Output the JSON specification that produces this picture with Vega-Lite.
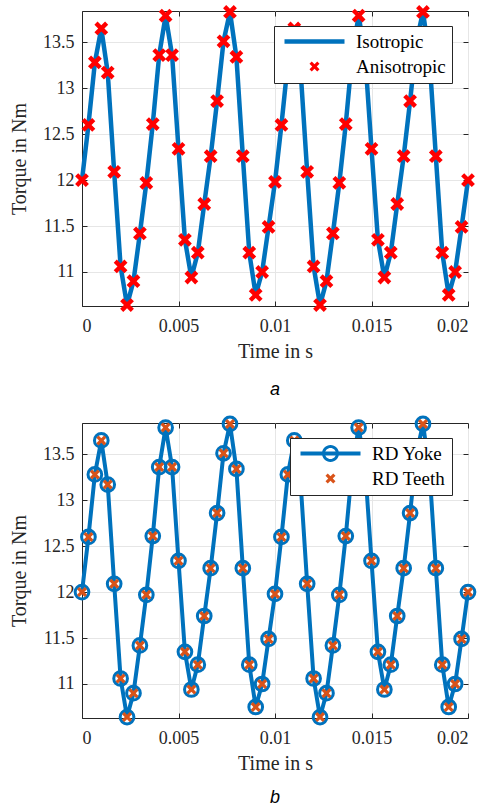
{
  "$schema": "https://vega.github.io/schema/vega-lite/v6.json",
  "background": "white",
  "padding": {"left": 9, "top": 4, "right": 5, "bottom": 0},
  "spacing": 10,
  "datasets": {
    "torque": [
      {"t": 0, "iso": 12.00, "Anisotropic": 12.00, "yoke": 12.00, "RD Teeth": 12.00},
      {"t": 0.000333, "iso": 12.60, "Anisotropic": 12.60, "yoke": 12.60, "RD Teeth": 12.60},
      {"t": 0.000667, "iso": 13.28, "Anisotropic": 13.28, "yoke": 13.28, "RD Teeth": 13.28},
      {"t": 0.001, "iso": 13.65, "Anisotropic": 13.65, "yoke": 13.65, "RD Teeth": 13.65},
      {"t": 0.001333, "iso": 13.17, "Anisotropic": 13.17, "yoke": 13.17, "RD Teeth": 13.17},
      {"t": 0.001667, "iso": 12.09, "Anisotropic": 12.09, "yoke": 12.09, "RD Teeth": 12.09},
      {"t": 0.002, "iso": 11.06, "Anisotropic": 11.06, "yoke": 11.06, "RD Teeth": 11.06},
      {"t": 0.002333, "iso": 10.64, "Anisotropic": 10.64, "yoke": 10.64, "RD Teeth": 10.64},
      {"t": 0.002667, "iso": 10.90, "Anisotropic": 10.90, "yoke": 10.90, "RD Teeth": 10.90},
      {"t": 0.003, "iso": 11.42, "Anisotropic": 11.42, "yoke": 11.42, "RD Teeth": 11.42},
      {"t": 0.003333, "iso": 11.97, "Anisotropic": 11.97, "yoke": 11.97, "RD Teeth": 11.97},
      {"t": 0.003667, "iso": 12.61, "Anisotropic": 12.61, "yoke": 12.61, "RD Teeth": 12.61},
      {"t": 0.004, "iso": 13.36, "Anisotropic": 13.36, "yoke": 13.36, "RD Teeth": 13.36},
      {"t": 0.004333, "iso": 13.79, "Anisotropic": 13.79, "yoke": 13.79, "RD Teeth": 13.79},
      {"t": 0.004667, "iso": 13.36, "Anisotropic": 13.36, "yoke": 13.36, "RD Teeth": 13.36},
      {"t": 0.005, "iso": 12.34, "Anisotropic": 12.34, "yoke": 12.34, "RD Teeth": 12.34},
      {"t": 0.005333, "iso": 11.35, "Anisotropic": 11.35, "yoke": 11.35, "RD Teeth": 11.35},
      {"t": 0.005667, "iso": 10.94, "Anisotropic": 10.94, "yoke": 10.94, "RD Teeth": 10.94},
      {"t": 0.006, "iso": 11.21, "Anisotropic": 11.21, "yoke": 11.21, "RD Teeth": 11.21},
      {"t": 0.006333, "iso": 11.74, "Anisotropic": 11.74, "yoke": 11.74, "RD Teeth": 11.74},
      {"t": 0.006667, "iso": 12.26, "Anisotropic": 12.26, "yoke": 12.26, "RD Teeth": 12.26},
      {"t": 0.007, "iso": 12.86, "Anisotropic": 12.86, "yoke": 12.86, "RD Teeth": 12.86},
      {"t": 0.007333, "iso": 13.51, "Anisotropic": 13.51, "yoke": 13.51, "RD Teeth": 13.51},
      {"t": 0.007667, "iso": 13.83, "Anisotropic": 13.83, "yoke": 13.83, "RD Teeth": 13.83},
      {"t": 0.008, "iso": 13.34, "Anisotropic": 13.34, "yoke": 13.34, "RD Teeth": 13.34},
      {"t": 0.008333, "iso": 12.26, "Anisotropic": 12.26, "yoke": 12.26, "RD Teeth": 12.26},
      {"t": 0.008667, "iso": 11.21, "Anisotropic": 11.21, "yoke": 11.21, "RD Teeth": 11.21},
      {"t": 0.009, "iso": 10.75, "Anisotropic": 10.75, "yoke": 10.75, "RD Teeth": 10.75},
      {"t": 0.009333, "iso": 11.00, "Anisotropic": 11.00, "yoke": 11.00, "RD Teeth": 11.00},
      {"t": 0.009667, "iso": 11.49, "Anisotropic": 11.49, "yoke": 11.49, "RD Teeth": 11.49},
      {"t": 0.01, "iso": 11.98, "Anisotropic": 11.98, "yoke": 11.98, "RD Teeth": 11.98},
      {"t": 0.010333, "iso": 12.60, "Anisotropic": 12.60, "yoke": 12.60, "RD Teeth": 12.60},
      {"t": 0.010667, "iso": 13.28, "Anisotropic": 13.28, "yoke": 13.28, "RD Teeth": 13.28},
      {"t": 0.011, "iso": 13.65, "Anisotropic": 13.65, "yoke": 13.65, "RD Teeth": 13.65},
      {"t": 0.011333, "iso": 13.17, "Anisotropic": 13.17, "yoke": 13.17, "RD Teeth": 13.17},
      {"t": 0.011667, "iso": 12.09, "Anisotropic": 12.09, "yoke": 12.09, "RD Teeth": 12.09},
      {"t": 0.012, "iso": 11.06, "Anisotropic": 11.06, "yoke": 11.06, "RD Teeth": 11.06},
      {"t": 0.012333, "iso": 10.64, "Anisotropic": 10.64, "yoke": 10.64, "RD Teeth": 10.64},
      {"t": 0.012667, "iso": 10.90, "Anisotropic": 10.90, "yoke": 10.90, "RD Teeth": 10.90},
      {"t": 0.013, "iso": 11.42, "Anisotropic": 11.42, "yoke": 11.42, "RD Teeth": 11.42},
      {"t": 0.013333, "iso": 11.97, "Anisotropic": 11.97, "yoke": 11.97, "RD Teeth": 11.97},
      {"t": 0.013667, "iso": 12.61, "Anisotropic": 12.61, "yoke": 12.61, "RD Teeth": 12.61},
      {"t": 0.014, "iso": 13.36, "Anisotropic": 13.36, "yoke": 13.36, "RD Teeth": 13.36},
      {"t": 0.014333, "iso": 13.79, "Anisotropic": 13.79, "yoke": 13.79, "RD Teeth": 13.79},
      {"t": 0.014667, "iso": 13.36, "Anisotropic": 13.36, "yoke": 13.36, "RD Teeth": 13.36},
      {"t": 0.015, "iso": 12.34, "Anisotropic": 12.34, "yoke": 12.34, "RD Teeth": 12.34},
      {"t": 0.015333, "iso": 11.35, "Anisotropic": 11.35, "yoke": 11.35, "RD Teeth": 11.35},
      {"t": 0.015667, "iso": 10.94, "Anisotropic": 10.94, "yoke": 10.94, "RD Teeth": 10.94},
      {"t": 0.016, "iso": 11.21, "Anisotropic": 11.21, "yoke": 11.21, "RD Teeth": 11.21},
      {"t": 0.016333, "iso": 11.74, "Anisotropic": 11.74, "yoke": 11.74, "RD Teeth": 11.74},
      {"t": 0.016667, "iso": 12.26, "Anisotropic": 12.26, "yoke": 12.26, "RD Teeth": 12.26},
      {"t": 0.017, "iso": 12.86, "Anisotropic": 12.86, "yoke": 12.86, "RD Teeth": 12.86},
      {"t": 0.017333, "iso": 13.51, "Anisotropic": 13.51, "yoke": 13.51, "RD Teeth": 13.51},
      {"t": 0.017667, "iso": 13.83, "Anisotropic": 13.83, "yoke": 13.83, "RD Teeth": 13.83},
      {"t": 0.018, "iso": 13.34, "Anisotropic": 13.34, "yoke": 13.34, "RD Teeth": 13.34},
      {"t": 0.018333, "iso": 12.26, "Anisotropic": 12.26, "yoke": 12.26, "RD Teeth": 12.26},
      {"t": 0.018667, "iso": 11.21, "Anisotropic": 11.21, "yoke": 11.21, "RD Teeth": 11.21},
      {"t": 0.019, "iso": 10.75, "Anisotropic": 10.75, "yoke": 10.75, "RD Teeth": 10.75},
      {"t": 0.019333, "iso": 11.00, "Anisotropic": 11.00, "yoke": 11.00, "RD Teeth": 11.00},
      {"t": 0.019667, "iso": 11.49, "Anisotropic": 11.49, "yoke": 11.49, "RD Teeth": 11.49},
      {"t": 0.02, "iso": 12.00, "Anisotropic": 12.00, "yoke": 12.00, "RD Teeth": 12.00}
    ]
  },
  "resolve": {"scale": {"color": "independent", "shape": "independent"}, "legend": {"color": "independent", "shape": "independent"}},
  "vconcat": [
    {
      "width": 386,
      "height": 295,
      "title": {"text": "a", "orient": "bottom", "anchor": "middle", "frame": "group", "offset": 20},
      "data": {"name": "torque"},
      "resolve": {"axis": {"x": "independent", "y": "independent"}},
      "layer": [
        {
          "mark": {"type": "line", "color": "#0072BD", "strokeWidth": 4.5, "strokeJoin": "round"},
          "encoding": {
            "x": {"field": "t", "type": "quantitative", "scale": {"domain": [0, 0.02], "nice": false, "zero": false},
                  "axis": {"title": "Time in s", "values": [0, 0.005, 0.01, 0.015, 0.02], "format": "~g"}},
            "y": {"field": "iso", "type": "quantitative", "scale": {"domain": [10.63, 13.84], "nice": false, "zero": false},
                  "axis": {"title": "Torque in Nm", "values": [11, 11.5, 12, 12.5, 13, 13.5], "format": "~g"}}
          }
        },
        {
          "transform": [{"fold": ["Anisotropic"], "as": ["series", "torque"]}],
          "mark": {"type": "point", "filled": true, "opacity": 1, "size": 190, "strokeWidth": 0},
          "encoding": {
            "x": {"field": "t", "type": "quantitative",
                  "axis": {"orient": "top", "labels": false, "grid": false, "domain": false, "title": null, "values": [0, 0.005, 0.01, 0.015, 0.02]}},
            "y": {"field": "torque", "type": "quantitative",
                  "axis": {"orient": "right", "labels": false, "grid": false, "domain": false, "title": null, "values": [11, 11.5, 12, 12.5, 13, 13.5]}},
            "color": {"field": "series", "type": "nominal",
                      "scale": {"domain": ["Isotropic", "Anisotropic"], "range": ["#0072BD", "#FF0000"]},
                      "legend": {"title": null, "orient": "none", "legendX": 192, "legendY": 15}},
            "shape": {"field": "series", "type": "nominal",
                      "scale": {"domain": ["Isotropic", "Anisotropic"],
                                "range": ["M-6,-0.45H6V0.45H-6Z", "M-1,-0.55L-0.55,-1L0,-0.45L0.55,-1L1,-0.55L0.45,0L1,0.55L0.55,1L0,0.45L-0.55,1L-1,0.55L-0.45,0Z"]},
                      "legend": {"title": null, "orient": "none", "legendX": 192, "legendY": 15}}
          }
        }
      ]
    },
    {
      "width": 386,
      "height": 295,
      "title": {"text": "b", "orient": "bottom", "anchor": "middle", "frame": "group", "offset": 16},
      "data": {"name": "torque"},
      "resolve": {"axis": {"x": "independent", "y": "independent"}},
      "layer": [
        {
          "mark": {"type": "line", "color": "#0072BD", "strokeWidth": 4, "strokeJoin": "round"},
          "encoding": {
            "x": {"field": "t", "type": "quantitative", "scale": {"domain": [0, 0.02], "nice": false, "zero": false},
                  "axis": {"title": "Time in s", "values": [0, 0.005, 0.01, 0.015, 0.02], "format": "~g"}},
            "y": {"field": "yoke", "type": "quantitative", "scale": {"domain": [10.63, 13.84], "nice": false, "zero": false},
                  "axis": {"title": "Torque in Nm", "values": [11, 11.5, 12, 12.5, 13, 13.5], "format": "~g"}}
          }
        },
        {
          "mark": {"type": "point", "shape": "circle", "filled": false, "opacity": 1, "size": 188, "stroke": "#0072BD", "strokeWidth": 3},
          "encoding": {
            "x": {"field": "t", "type": "quantitative",
                  "axis": {"orient": "top", "labels": false, "grid": false, "domain": false, "title": null, "values": [0, 0.005, 0.01, 0.015, 0.02]}},
            "y": {"field": "yoke", "type": "quantitative",
                  "axis": {"orient": "right", "labels": false, "grid": false, "domain": false, "title": null, "values": [11, 11.5, 12, 12.5, 13, 13.5]}}
          }
        },
        {
          "transform": [{"fold": ["RD Teeth"], "as": ["series", "torque"]}],
          "mark": {"type": "point", "filled": true, "opacity": 1, "size": 100, "strokeWidth": 0},
          "encoding": {
            "x": {"field": "t", "type": "quantitative", "axis": null},
            "y": {"field": "torque", "type": "quantitative", "axis": null},
            "color": {"field": "series", "type": "nominal",
                      "scale": {"domain": ["RD Yoke", "RD Teeth"], "range": ["#0072BD", "#D95319"]},
                      "legend": {"title": null, "orient": "none", "legendX": 208, "legendY": 15}},
            "shape": {"field": "series", "type": "nominal",
                      "scale": {"domain": ["RD Yoke", "RD Teeth"],
                                "range": ["M-6,-0.4H6V0.4H-6Z M-1.7,0A1.7,1.7,0,0,1,1.7,0A1.7,1.7,0,0,1,-1.7,0Z M-1.1,0A1.1,1.1,0,0,0,1.1,0A1.1,1.1,0,0,0,-1.1,0Z", "M-1,-0.55L-0.55,-1L0,-0.45L0.55,-1L1,-0.55L0.45,0L1,0.55L0.55,1L0,0.45L-0.55,1L-1,0.55L-0.45,0Z"]},
                      "legend": {"title": null, "orient": "none", "legendX": 208, "legendY": 15}}
          }
        }
      ]
    }
  ],
  "config": {
    "view": {"stroke": "#262626", "strokeWidth": 1},
    "axis": {
      "labelFont": "Liberation Serif", "labelFontSize": 18, "labelColor": "#262626",
      "titleFont": "Liberation Serif", "titleFontSize": 20, "titleFontWeight": "normal", "titleColor": "#262626",
      "domainColor": "#262626", "tickColor": "#262626", "tickSize": -5, "tickWidth": 1,
      "gridColor": "#e6e6e6", "gridWidth": 1, "labelPadding": 16, "titlePadding": 6
    },
    "axisY": {"labelPadding": 13, "titlePadding": 13},
    "title": {"font": "Liberation Sans", "fontStyle": "italic", "fontWeight": "normal", "fontSize": 18, "color": "#000000"},
    "legend": {
      "symbolSize": 100, "symbolStrokeWidth": 0, "symbolOffset": 25, "labelOffset": 32, "padding": 6, "rowPadding": 5,
      "labelFont": "Liberation Serif", "labelFontSize": 19, "labelColor": "#000000",
      "strokeColor": "#262626", "strokeWidth": 1, "fillColor": "#ffffff"
    }
  }
}
